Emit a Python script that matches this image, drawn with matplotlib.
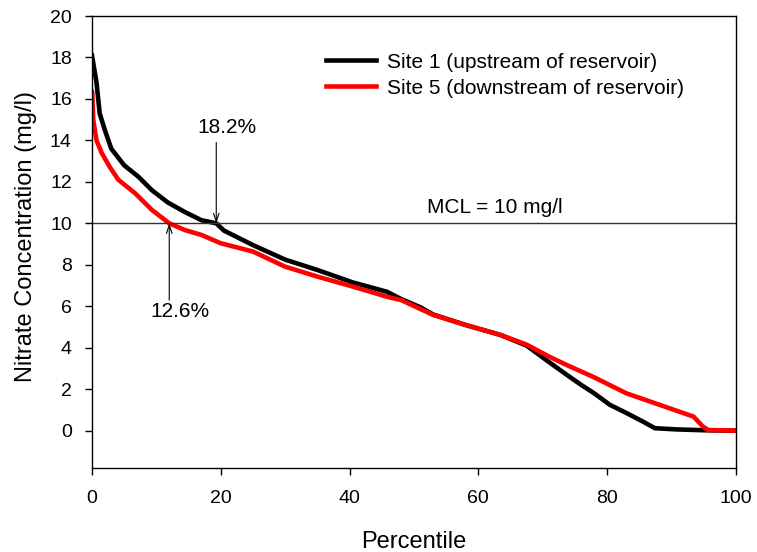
import matplotlib
matplotlib.use("Agg")
import matplotlib.pyplot as plt

plt.rcParams['font.family'] = ['Liberation Sans', 'DejaVu Sans']

# Site 1 (upstream) nitrate duration curve
site1_pct = [0, 0.05, 0.7, 1.2, 2.0, 3.0, 5.0, 7.2, 9.3, 11.8, 14.4, 17.0, 19.3, 20.5,
             25, 30, 35, 40.5, 45.8, 48, 51, 53, 58, 63.4, 67.5, 71, 73.7, 76, 78,
             80.4, 83, 85.6, 87.4, 90.8, 95, 100]
site1_no3 = [18.1, 18.0, 16.8, 15.3, 14.5, 13.6, 12.8, 12.25, 11.6, 11.0, 10.55, 10.15, 10.0, 9.65,
             8.95, 8.25, 7.75, 7.15, 6.7, 6.35, 5.95, 5.6, 5.1, 4.62, 4.1, 3.3, 2.7, 2.2, 1.8,
             1.25, 0.85, 0.43, 0.12, 0.06, 0.02, 0.0]

# Site 5 (downstream)
site5_pct = [0, 0.05, 0.2, 0.7, 1.5, 2.8, 4.1, 6.7, 9.3, 12.0, 14.4, 17, 20, 25, 30, 35,
             40.5, 45.8, 48, 53, 58, 63.4, 67.5, 71, 73.7, 77.8, 83, 88.2, 93.4, 94.9, 95.7, 100]
site5_no3 = [16.35, 16.3, 15.0, 14.0, 13.4, 12.7, 12.1, 11.45, 10.65, 10.0, 9.68, 9.44, 9.04, 8.64, 7.91, 7.43,
             6.95, 6.46, 6.3, 5.58, 5.1, 4.62, 4.15, 3.57, 3.17, 2.6, 1.8, 1.24, 0.68, 0.19, 0.03, 0.0]

mcl = 10
cross_labels = ["18.2%", "12.6%"]
cross_x = [19.3, 12.0]

fig = plt.figure(figsize=(7.57, 5.52), dpi=100)
ax = fig.add_axes([0.1215, 0.1522, 0.8507, 0.8188])

ax.plot(site1_pct, site1_no3, color='black', lw=3.3, label='Site 1 (upstream of reservoir)')
ax.plot(site5_pct, site5_no3, color='#ff0000', lw=3.3, label='Site 5 (downstream of reservoir)')
ax.axhline(mcl, color='#333333', lw=1)
ax.text(62.5, 10.75, 'MCL = 10 mg/l', fontsize=15, ha='center', va='center')

# crossing arrows
arrow = dict(arrowstyle='->,head_length=0.6,head_width=0.2', lw=0.8, color='black',
             shrinkA=0, shrinkB=0)
ax.annotate('', xy=(cross_x[0], mcl), xytext=(cross_x[0], 13.9), arrowprops=arrow)
ax.text(20.9, 14.6, cross_labels[0], fontsize=15, ha='center', va='center')
ax.annotate('', xy=(cross_x[1], mcl), xytext=(cross_x[1], 6.3), arrowprops=arrow)
ax.text(13.6, 5.75, cross_labels[1], fontsize=15, ha='center', va='center')

ax.set_xlim(0, 100)
ax.set_ylim(-1.8, 20)
ax.set_xticks(range(0, 101, 20))
ax.set_yticks(range(0, 21, 2))
ax.tick_params(direction='out', length=5, width=1, labelsize=14)
ax.tick_params(axis='x', pad=11)
ax.tick_params(axis='y', pad=9.5)
for s in ax.spines.values():
    s.set_linewidth(1)

ax.set_xlabel('Percentile', fontsize=17)
ax.set_ylabel('Nitrate Concentration (mg/l)', fontsize=17)
ax.xaxis.set_label_coords(0.5, -0.14)
ax.yaxis.set_label_coords(-0.085, 0.513)

ax.legend(loc='upper left', bbox_to_anchor=(0.364, 0.919), frameon=False, fontsize=15,
          handlelength=2.4, handletextpad=0.5, labelspacing=0.34, borderpad=0, borderaxespad=0)

plt.savefig('out.png', dpi=100)
